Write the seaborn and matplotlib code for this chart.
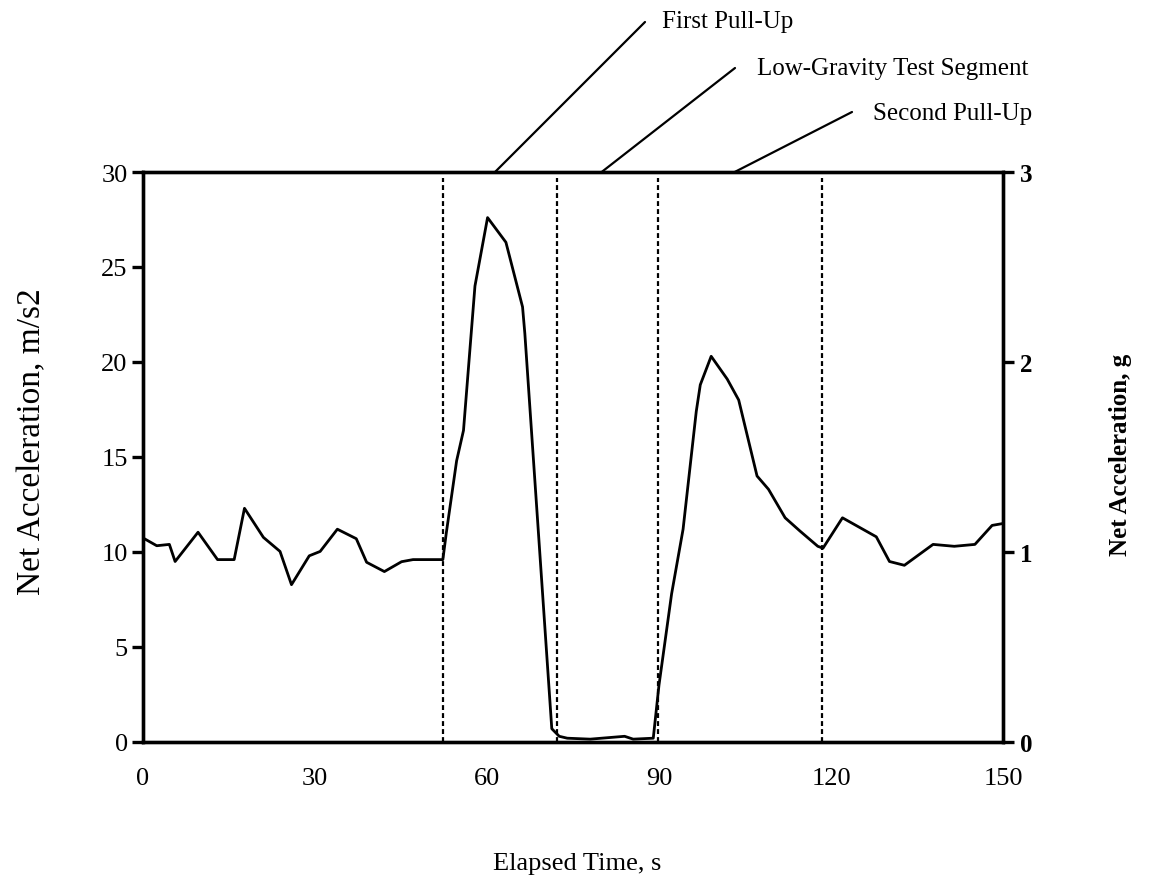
import matplotlib
matplotlib.use("Agg")
import matplotlib.pyplot as plt
import seaborn as sns
import pandas as pd

# Net acceleration record over one parabolic manoeuvre
time_s = [0.0, 2.4, 4.6, 5.6, 9.6, 13.0, 15.9, 17.7, 21.0, 23.9, 25.9, 29.0,
          30.9, 33.9, 37.2, 39.0, 42.1, 45.1, 47.1, 52.3, 52.9, 54.7, 55.9,
          57.9, 60.1, 63.3, 66.2, 66.6, 71.3, 72.6, 74.0, 78.0, 84.0, 85.5,
          89.0, 90.0, 92.2, 94.2, 96.5, 97.2, 99.1, 101.9, 103.9, 107.1,
          109.1, 112.0, 114.6, 117.7, 118.6, 122.0, 127.9, 130.2, 132.8,
          137.8, 141.5, 145.1, 148.1, 150.0]
accel_ms2 = [10.74, 10.33, 10.4, 9.5, 11.04, 9.6, 9.6, 12.3, 10.77, 10.03,
             8.28, 9.8, 10.03, 11.2, 10.7, 9.46, 8.97, 9.49, 9.6, 9.6, 11.0,
             14.8, 16.4, 24.0, 27.6, 26.3, 22.9, 21.5, 0.7, 0.3, 0.2, 0.15,
             0.3, 0.15, 0.2, 3.0, 7.8, 11.2, 17.4, 18.8, 20.3, 19.1, 18.0,
             14.0, 13.3, 11.8, 11.1, 10.3, 10.2, 11.8, 10.8, 9.5, 9.3, 10.4,
             10.3, 10.4, 11.4, 11.5]

# Phase boundaries (s)
phase_bounds = [52.3, 72.2, 89.8, 118.5]

# Phase labels and the time where each leader meets the top frame
phase_labels = ["First Pull-Up", "Low-Gravity Test Segment", "Second Pull-Up"]
phase_anchor_s = [61.4, 80.0, 103.2]

x_ticks = [0, 30, 60, 90, 120, 150]
y_ticks = [0, 5, 10, 15, 20, 25, 30]
g_ticks = [0, 1, 2, 3]

sns.set_theme(style="white")
plt.rcParams["font.family"] = ["Liberation Serif", "DejaVu Serif"]
plt.rcParams["text.color"] = "black"
plt.rcParams["axes.labelcolor"] = "black"

W, H = 1153, 878
fig = plt.figure(figsize=(W / 100, H / 100), dpi=100)
ax = fig.add_axes([143 / W, 1 - 743 / H, 860 / W, 570 / H])

df = pd.DataFrame({"t": time_s, "a": accel_ms2})
sns.lineplot(data=df, x="t", y="a", ax=ax, color="black", lw=2.0,
             estimator=None, sort=False)

ax.vlines(phase_bounds, 0, 29.7, colors="black", linestyles=(0, (2.2, 1.4)),
          lw=1.6)

ax.set_xlim(0, 150)
ax.set_ylim(0, 30)
ax.set_xticks(x_ticks)
ax.set_yticks(y_ticks)
ax.set_xlabel("")
ax.set_ylabel("")
for s in ax.spines.values():
    s.set_linewidth(2.4)
    s.set_color("black")
ax.tick_params(axis="both", direction="out", length=8, width=2.4,
               labelsize=19, colors="black")
ax.tick_params(axis="y", pad=3)
ax.tick_params(axis="x", pad=10)

ax2 = ax.twinx()
ax2.set_ylim(0, 3)
ax2.set_yticks(g_ticks)
ax2.tick_params(axis="y", direction="out", length=8, width=2.4,
                labelsize=18, colors="black", pad=4)
for lbl in ax2.get_yticklabels():
    lbl.set_fontweight("bold")
for s in ax2.spines.values():
    s.set_linewidth(2.4)
    s.set_color("black")
ax2.grid(False)

# Axis titles (positions in figure pixels)
fig.text(577, H - 870, "Elapsed Time, s", ha="center", va="baseline",
         fontsize=19, color="black", transform=None)
fig.text(32, H - 442, "Net Acceleration, m/s2", ha="center",
         va="center", rotation=90, fontsize=24, color="black",
         transform=None)
fig.text(1120, H - 455, "Net Acceleration, g", ha="center",
         va="center", rotation=90, fontsize=18, fontweight="bold",
         color="black", transform=None)

# Phase call-outs: leader from the top frame, label at its upper end
leader_tops = [(645, 23), (735, 69), (852, 113)]
label_anchor = [(662, 28), (757, 75), (873, 120)]
for label, t0, (lx, ly), (tx, ty) in zip(phase_labels, phase_anchor_s,
                                          leader_tops, label_anchor):
    ax.annotate("", xy=(t0, 30), xycoords="data",
                xytext=(lx, H - ly), textcoords="figure pixels",
                annotation_clip=False,
                arrowprops=dict(arrowstyle="-", color="black", lw=1.6,
                                shrinkA=0, shrinkB=0))
    fig.text(tx, H - ty, label, ha="left", va="baseline", fontsize=18,
             color="black", transform=None)

fig.savefig("out.png", dpi=100)
